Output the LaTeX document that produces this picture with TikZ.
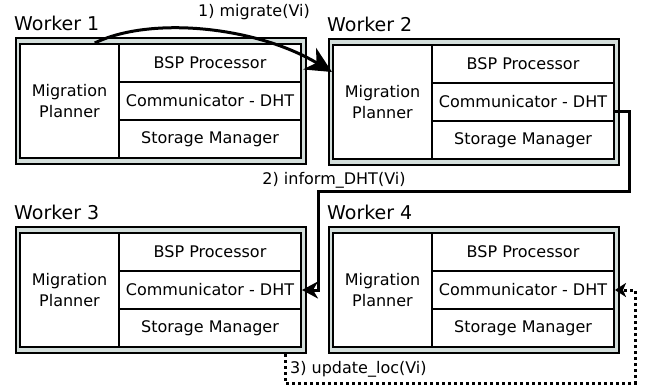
\documentclass[tikz,border=0pt]{standalone}
\usepackage{fontspec}
\setmainfont{DejaVu Sans}
\usetikzlibrary{arrows.meta,calc}
\definecolor{wfill}{RGB}{211,222,219}
\tikzset{
  outerbox/.style={draw=black, line width=2pt, fill=wfill, rectangle, inner sep=0pt, minimum width=290pt, minimum height=126pt, anchor=north west},
  planbox/.style={draw=black, line width=2pt, fill=white, rectangle, inner sep=0pt, minimum width=99pt, minimum height=114pt, anchor=north west, align=center, font=\fontsize{16}{21}\selectfont},
  rowbox/.style={draw=black, line width=2pt, fill=white, rectangle, inner sep=0pt, minimum width=182pt, minimum height=38pt, anchor=north west, font=\fontsize{16}{19}\selectfont},
  wlabel/.style={anchor=base west, inner sep=0pt, font=\fontsize{19}{22}\selectfont},
  msglabel/.style={inner sep=0pt, font=\fontsize{16}{19}\selectfont},
  msgarrow/.style={draw=black, line width=3pt},
}
\newcommand{\workerunit}[4]{%
  \node[outerbox] (#1) at (#2,#3) {};
  \node[wlabel] (#1lab) at (#2-1,#3-7) {#4};
  \node[planbox] (#1mp) at (#2+4,#3+6) {Migration\\Planner};
  \node[rowbox] (#1bsp) at (#2+103,#3+6) {BSP Processor};
  \node[rowbox] (#1com) at (#2+103,#3+44) {Communicator - DHT};
  \node[rowbox] (#1sto) at (#2+103,#3+82) {Storage Manager};
}
\begin{document}
\begin{tikzpicture}[x=1pt,y=-1pt]
\useasboundingbox (0,0) rectangle (646,389);
\workerunit{wa}{15}{37}{Worker 1}
\workerunit{wb}{328}{38}{Worker 2}
\workerunit{wc}{15}{226}{Worker 3}
\workerunit{wd}{328}{226}{Worker 4}

% 1) migrate
\coordinate (m0) at ($(wamp.north west)!0.75!(wamp.north east)$);
\coordinate (m1) at ($(wbmp.north west)+(0,28)$);
\draw[msgarrow, -{Stealth[length=26pt,width=25pt,inset=8pt]}]
  (m0) .. controls (150,16) and (255,26) .. (m1);
\node[msglabel] (l1) at (254,12) {1) migrate(Vi)};

% 2) inform_DHT
\coordinate (a1) at (629,191);
\coordinate (a2) at (318,191);
\draw[msgarrow, -{Stealth[length=16pt,width=17pt,inset=5pt]}]
  ([yshift=-9pt]wbcom.east) -| (a1) -- (a2) |- (wccom.east);
\node[msglabel] (l2) at (334,180) {2) inform\_DHT(Vi)};

% 3) update_loc
\coordinate (b2) at (635,383);
\draw[msgarrow, dash pattern=on 3pt off 3pt, -{Stealth[length=11pt,width=14pt,inset=3pt]}]
  ([xshift=-22pt]wc.south east) |- (b2) |- (wdcom.east);
\node[msglabel, anchor=west] (l3) at (290,369) {3) update\_loc(Vi)};
\end{tikzpicture}
\end{document}
